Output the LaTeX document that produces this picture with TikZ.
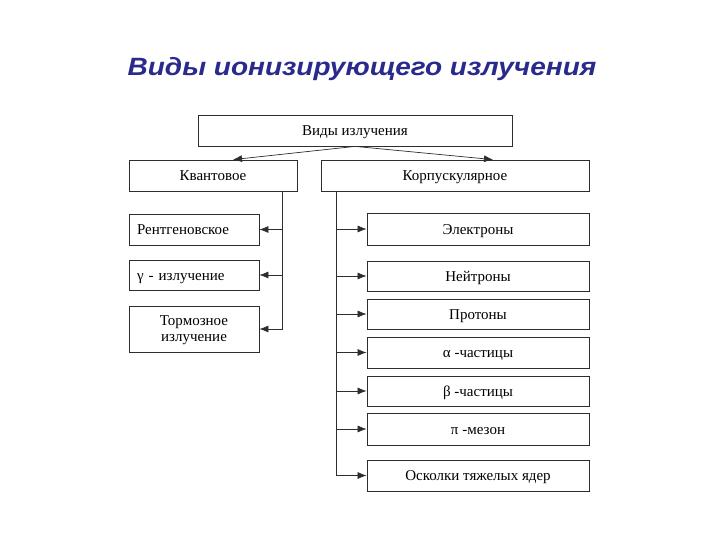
\documentclass[tikz,border=0pt]{standalone}
\usepackage{fontspec}
\setmainfont{Liberation Serif}
\newfontfamily\titlefont{Liberation Sans}
\usetikzlibrary{calc,arrows.meta}
\definecolor{titleblue}{RGB}{42,42,140}
\definecolor{boxline}{RGB}{45,45,45}

\begin{document}
\begin{tikzpicture}[x=1pt,y=-1pt,
  box/.style={draw=boxline,line width=0.8pt,inner sep=0pt,align=center,
    text height=10pt,text depth=0pt,font=\fontsize{15}{16}\selectfont},
  lbox/.style={box,minimum width=130pt},
  rbox/.style={box,minimum width=222pt},
  arr/.style={draw=boxline,line width=0.7pt,-{Latex[length=9pt,width=7pt]}}]
  \useasboundingbox (0,0) rectangle (720,540);
  \node[font=\titlefont\bfseries\itshape\fontsize{25}{28}\selectfont,text=titleblue,
    anchor=base] (title) at (362,76) {\scalebox{1.12}[1]{Виды ионизирующего излучения}};
  % top levels
  \node[box,minimum width=314pt,minimum height=31pt] (vid) at (355,130.5) {Виды излучения};
  \node[box,minimum width=168pt,minimum height=31pt] (kvant) at (213,175.5) {Квантовое};
  \node[box,minimum width=268pt,minimum height=31pt] (korp) at (455,175.5) {Корпускулярное};
  \draw[arr] (vid.south) -- ($(kvant.north)+(20,0)$);
  \draw[arr] (vid.south) -- ($(korp.north)+(38,0)$);
  % left column
  \node[lbox,minimum height=31pt,text width=114pt,align=left] (rent) at (194,229.5) {Рентгеновское};
  \node[lbox,minimum height=30pt,text width=114pt,align=left] (gam) at (194,275) {γ - излучение};
  \node[lbox,minimum height=46pt,text height=25pt] (torm) at (194,329) {Тормозное\\излучение};
  % right column
  \node[rbox,minimum height=32pt] (el) at (478,229) {Электроны};
  \node[rbox,minimum height=30pt] (neut) at (478,276) {Нейтроны};
  \node[rbox,minimum height=30pt] (prot) at (478,314) {Протоны};
  \node[rbox,minimum height=31pt] (alf) at (478,352.5) {α -частицы};
  \node[rbox,minimum height=30pt] (bet) at (478,391) {β -частицы};
  \node[rbox,minimum height=32pt] (pimez) at (478,429) {π -мезон};
  \node[rbox,minimum height=31pt] (osk) at (478,475.5) {Осколки тяжелых ядер};
  % trunks
  \coordinate (lt) at (282,191);
  \coordinate (rt) at (336,191);
  \draw[arr] (lt) |- (torm.east);
  \foreach \n in {rent,gam}
    \draw[arr] (lt |- \n.east) -- (\n.east);
  \draw[arr] (rt) |- (osk.west);
  \foreach \n in {el,neut,prot,alf,bet,pimez}
    \draw[arr] (rt |- \n.west) -- (\n.west);
\end{tikzpicture}
\end{document}
